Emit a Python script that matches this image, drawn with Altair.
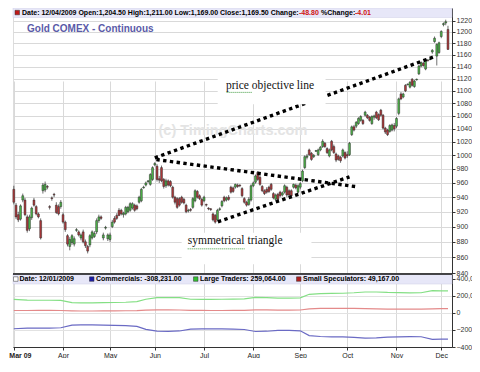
import altair as alt
import pandas as pd

FONT = "Liberation Sans"
W, H = 439, 339          # whole plot area (price panel on top, COT panel below)
SPLIT = 266              # pixel row where the COT panel starts

# first trading session of each month (trading-day index, Mar 2 2009 = 0)
month_idx = [0, 22, 43, 63, 85, 107, 128, 149, 171, 191]
month_lbl = ["Mar 09", "Apr", "May", "Jun", "Jul", "Aug", "Sep", "Oct", "Nov", "Dec"]
price_ticks = [840, 860, 880, 900, 920, 940, 960, 980, 1000, 1020, 1040, 1060,
               1080, 1100, 1120, 1140, 1160, 1180, 1200, 1220]
cot_ticks = [-400000, -200000, 0, 200000, 400000]

# daily candles, Mar .. Dec 2009 (one row of numbers per month)
opens = [951, 929, 916, 910, 936, 936, 913, 897, 912, 936, 927, 917, 908, 949, 950, 955, 927, 939, 944, 929, 927, 927,
         916, 906, 888, 874, 879, 877, 895, 893, 885, 893, 880, 874, 876, 885, 887, 893, 908, 913, 885, 898, 884,
         883, 900, 911, 915, 922, 922, 916, 917, 920, 922, 925, 929, 928, 933, 935, 953, 957, 962, 958, 965,
         986, 984, 966, 982, 965, 956, 963, 962, 954, 940, 938, 938, 940, 937, 929, 921, 923, 926, 935, 948, 942, 937,
         935, 930, 925, 924, 917, 915, 909, 923, 928, 940, 936, 940, 954, 953, 954, 957, 957, 952, 938, 933, 930, 936,
         956, 961, 975, 968, 955, 949, 951, 954, 958, 945, 937, 944, 947, 943, 947, 954, 949, 949, 954, 957, 947,
         954, 963, 982, 997, 1008, 1003, 998, 1006, 1001, 1008, 1013, 1018, 1010, 999, 1021, 1013, 1002, 999, 997, 999, 1004,
         1001, 1001, 1031, 1043, 1044, 1048, 1053, 1053, 1061, 1061, 1058, 1048, 1058, 1066, 1062, 1069, 1061, 1041, 1038, 1036, 1038, 1045,
         1044, 1064, 1095, 1090, 1109, 1110, 1106, 1119, 1107, 1118, 1128, 1141, 1146, 1136, 1151, 1152, 1165, 1183, 1158, 1164,
         1192, 1213, 1216, 1204.5]
highs = [956, 932, 920, 930, 945, 939, 916, 916, 927, 939, 929, 919, 911, 960, 962, 957, 929, 941, 946, 933, 930, 936,
         919, 908, 890, 886, 890, 887, 898, 895, 891, 896, 883, 876, 890, 895, 894, 911, 916, 915, 892, 901, 891,
         892, 909, 914, 918, 925, 924, 920, 928, 928, 933, 933, 931, 930, 942, 953, 956, 962, 964, 974, 984,
         990, 987, 970, 985, 967, 966, 965, 964, 956, 942, 940, 940, 942, 939, 931, 924, 925, 940, 951, 950, 944, 939,
         942, 931, 926, 925, 919, 917, 924, 926, 936, 942, 941, 943, 956, 955, 959, 959, 958, 954, 940, 935, 940, 958,
         962, 972, 977, 970, 957, 951, 954, 956, 960, 947, 945, 946, 949, 948, 958, 956, 951, 951, 959, 959, 958,
         961, 979, 1000, 1002, 1010, 1005, 1002, 1008, 1010, 1014, 1024, 1020, 1012, 1010, 1023, 1016, 1004, 1001, 999, 1010, 1006,
         1006, 1020, 1045, 1046, 1052, 1058, 1061, 1055, 1068, 1063, 1060, 1061, 1062, 1068, 1064, 1071, 1063, 1043, 1040, 1047, 1048, 1049,
         1058, 1089, 1098, 1097, 1111, 1112, 1116, 1121, 1118, 1120, 1143, 1149, 1148, 1154, 1153, 1155, 1170, 1192, 1180, 1183,
         1203, 1217, 1222, 1211]
lows = [930, 910, 906, 908, 933, 914, 892, 894, 909, 927, 915, 911, 883, 945, 947, 951, 923, 935, 940, 917, 915, 924,
        904, 893, 874, 869, 876, 874, 893, 887, 882, 878, 872, 865, 873, 883, 885, 890, 905, 909, 882, 896, 881,
        880, 898, 904, 909, 914, 915, 912, 915, 918, 920, 923, 920, 922, 931, 933, 952, 955, 960, 956, 963,
        984, 962, 960, 961, 952, 953, 955, 954, 938, 930, 924, 927, 931, 930, 918, 919, 920, 924, 933, 938, 936, 927,
        933, 927, 922, 921, 907, 904, 907, 921, 926, 933, 934, 935, 945, 946, 952, 953, 954, 940, 931, 927, 928, 934,
        954, 959, 963, 956, 947, 943, 945, 946, 949, 937, 935, 935, 940, 941, 945, 940, 941, 941, 952, 951, 945,
        951, 961, 980, 994, 999, 992, 996, 1005, 999, 1006, 1011, 1011, 1002, 997, 1006, 1002, 990, 992, 989, 997, 994,
        996, 999, 1029, 1036, 1041, 1046, 1051, 1046, 1059, 1055, 1051, 1046, 1054, 1055, 1052, 1059, 1039, 1032, 1029, 1034, 1036, 1036,
        1041, 1061, 1085, 1088, 1098, 1109, 1104, 1107, 1105, 1117, 1126, 1139, 1140, 1134, 1149, 1151, 1162, 1181, 1142, 1162,
        1189, 1210, 1212, 1169]
closes = [933, 913, 909, 928, 942, 916, 895, 913, 925, 929, 917, 913, 885, 957, 958, 954, 926, 938, 943, 919, 917, 933,
          906, 896, 877, 883, 888, 884, 896, 889, 889, 880, 875, 868, 888, 893, 891, 908, 913, 911, 889, 899, 889,
          889, 906, 906, 911, 915, 917, 918, 926, 926, 931, 931, 922, 924, 940, 951, 954, 960, 963, 972, 982,
          988, 965, 964, 963, 955, 963, 957, 956, 940, 933, 926, 929, 933, 932, 920, 922, 922, 938, 949, 940, 938, 929,
          940, 929, 924, 923, 909, 906, 922, 924, 934, 935, 939, 937, 947, 948, 958, 955, 956, 942, 933, 929, 937, 956,
          960, 970, 965, 958, 949, 945, 947, 948, 951, 939, 943, 937, 942, 946, 956, 943, 943, 942, 958, 953, 956,
          959, 977, 998, 999, 1001, 994, 1000, 1007, 1008, 1012, 1021, 1013, 1004, 1008, 1008, 1004, 993, 994, 992, 1008, 996,
          999, 1018, 1043, 1038, 1050, 1056, 1059, 1048, 1066, 1057, 1053, 1059, 1060, 1057, 1054, 1061, 1041, 1035, 1031, 1045, 1046, 1040,
          1056, 1087, 1087, 1095, 1100, 1111, 1114, 1109, 1116, 1119, 1141, 1147, 1142, 1152, 1150, 1153, 1168, 1189, 1178, 1181,
          1201, 1215, 1218.3, 1169.5]

# weekly COT report positions (trading-day index) and net positions
cot_idx = [0, 6, 11, 16, 21, 26, 30, 35, 40, 45, 50, 55, 59, 64, 69, 74, 79, 84, 88, 93, 98,
           103, 108, 113, 118, 123, 128, 132, 137, 142, 147, 152, 157, 162, 167, 172, 177, 182, 187, 191, 194]
large_traders = [158000, 150000, 148000, 148000, 146000, 120000, 118000, 118000, 120000, 122000, 125000,
                 132000, 160000, 178000, 180000, 178000, 160000, 158000, 158000, 160000, 162000,
                 165000, 182000, 180000, 172000, 172000, 176000, 218000, 225000, 228000, 230000,
                 236000, 245000, 245000, 240000, 238000, 235000, 236000, 262000, 259064, 259064]
small_specs = [28000, 28000, 30000, 30000, 28000, 24000, 22000, 22000, 23000, 24000, 25000,
               27000, 33000, 36000, 36000, 34000, 30000, 29000, 28000, 28000, 29000,
               30000, 36000, 35000, 32000, 32000, 34000, 48000, 52000, 53000, 52000,
               52000, 50000, 48000, 45000, 44000, 43000, 44000, 48000, 49167, 49167]
commercials = [-186000, -178000, -178000, -178000, -174000, -144000, -140000, -140000, -143000, -146000, -150000,
               -159000, -193000, -214000, -216000, -212000, -190000, -187000, -186000, -188000, -191000,
               -195000, -218000, -215000, -204000, -204000, -210000, -266000, -277000, -281000, -282000,
               -288000, -295000, -293000, -285000, -282000, -278000, -280000, -310000, -308231, -308231]

# drawn trend lines (trading-day index, price)
line_seg = ["objective", "objective", "upper", "upper", "lower", "lower"]
line_i = [63.0, 188.6, 63.7, 153.0, 91.2, 150.0]
line_p = [996.3, 1157.9, 993.8, 954.7, 906.4, 968.7]

# annotation text boxes
note_txt = ["price objective line", "symmetrical triangle"]
note_i = [114.5, 98.9]
note_p = [1108, 880.4]
box_i1 = [91.1, 75.0]
box_i2 = [139.3, 133.0]
box_p1 = [1135.7, 892.0]
box_p2 = [1078.5, 851.4]
squig_i1 = [95.1, 77.7]
squig_i2 = [106.3, 103.1]
squig_p = [1097.5, 870.9]

candles = pd.DataFrame({"i": list(range(len(opens))), "o": opens, "h": highs, "l": lows, "c": closes})
lines = pd.DataFrame({"seg": line_seg, "i": line_i, "p": line_p})
notes = pd.DataFrame({"txt": note_txt, "i": note_i, "p": note_p})
boxes = pd.DataFrame({"i1": box_i1, "i2": box_i2, "p1": box_p1, "p2": box_p2})
squig = pd.DataFrame({"i1": squig_i1, "i2": squig_i2, "p": squig_p})
wm = pd.DataFrame({"txt": ["(c) TimingCharts.com"], "i": [97.9], "p": [1037]})
groups = ["Commercials", "Large Traders", "Small Speculators"]
cot = pd.DataFrame({
    "idx": cot_idx * 3,
    "g": [groups[0]] * len(cot_idx) + [groups[1]] * len(cot_idx) + [groups[2]] * len(cot_idx),
    "v": commercials + large_traders + small_specs,
})
one = pd.DataFrame({"a": [0]})

xs = alt.Scale(domain=[-0.36, 195.8], nice=False, zero=False)
ys = alt.Scale(type="log", domain=[839.1, 1243.3], range=[SPLIT, 0], nice=False, zero=False)
ycs = alt.Scale(domain=[-400000, 456000], range=[H, SPLIT], nice=False, zero=False)

GRID = "#d9d9d9"
label_expr = "[" + ",".join("'%s'" % m for m in month_lbl) + "][indexof([" + ",".join(
    str(v) for v in month_idx) + "], datum.value)]"
x_ax = alt.Axis(values=month_idx, labelExpr=label_expr, grid=True, gridColor=GRID,
                tickSize=3, tickColor="#333", domainColor="#333", labelFontSize=7, labelFont=FONT,
                labelColor="#222", labelPadding=1, labelFlush=3, labelFlushOffset=5,
                labelOverlap=False, title=None,
                labelFontWeight={"condition": {"test": "datum.value == 0", "value": "bold"}, "value": "normal"})
y_price = alt.Axis(orient="right", values=price_ticks, format="d", grid=True, gridColor=GRID,
                   tickSize=3, tickColor="#333", domainColor="#333", labelFontSize=7, labelFont=FONT,
                   labelColor="#333", labelPadding=1, labelOverlap=False, title=None)
y_cot = alt.Axis(orient="right", values=cot_ticks, format=",.0f", grid=True, gridColor="#e2e2e2",
                 tickSize=3, tickColor="#333", domainColor="#333", labelFontSize=7, labelFont=FONT,
                 labelColor="#333", labelPadding=1, labelOverlap=False, title=None)

X = lambda f: alt.X(f, scale=xs, axis=x_ax)
Y = lambda f: alt.Y(f, scale=ys, axis=y_price)

# ---------------- price panel ----------------
watermark = alt.Chart(wm).mark_text(font=FONT, fontWeight="bold", fontSize=14.5, color="#e4e4e4",
                                    baseline="middle").encode(x=X("i:Q"), y=Y("p:Q"), text="txt:N")
wicks = alt.Chart(candles).mark_rule(color="#333333", strokeWidth=0.7).encode(
    x=X("i:Q"), y=Y("l:Q"), y2="h:Q")
bodies = alt.Chart(candles).transform_calculate(x0="datum.i - 0.42", x1="datum.i + 0.42").mark_rect(
    stroke="#2a2a2a", strokeWidth=0.5).encode(
    x=X("x0:Q"), x2="x1:Q", y=Y("o:Q"), y2="c:Q",
    color=alt.condition("datum.c >= datum.o", alt.value("#4db848"), alt.value("#b2383a")))
trend = alt.Chart(lines).mark_line(color="black", strokeWidth=3.4, strokeDash=[3.4, 3.4],
                                   strokeCap="butt").encode(x=X("i:Q"), y=Y("p:Q"), detail="seg:N")
white = alt.Chart(boxes).mark_rect(fill="white").encode(x=X("i1:Q"), x2="i2:Q", y=Y("p1:Q"), y2="p2:Q")
note_text = alt.Chart(notes).mark_text(font="Liberation Serif", fontSize=11.5, color="#111",
                                       baseline="middle").encode(x=X("i:Q"), y=Y("p:Q"), text="txt:N")
squiggle = alt.Chart(squig).mark_rule(color="#3f9a3f", strokeWidth=1, strokeDash=[1, 1]).encode(
    x=X("i1:Q"), x2="i2:Q", y=Y("p:Q"))
price_panel = alt.layer(watermark, wicks, bodies, trend, white, note_text, squiggle)

# ---------------- COT panel ----------------
cot_panel = alt.Chart(cot).mark_line(strokeWidth=1.2).encode(
    x=X("idx:Q"),
    y=alt.Y("v:Q", scale=ycs, axis=y_cot),
    color=alt.Color("g:N", scale=alt.Scale(domain=groups, range=["#6a6ac4", "#84df84", "#e48a8a"]),
                    legend=None))


# ---------------- header bars, legends, title ----------------
def rect(x1, x2, y1, y2, fill, stroke="#333", sw=0.5):
    return alt.Chart(one).mark_rect(fill=fill, stroke=stroke, strokeWidth=sw).encode(
        x=alt.value(x1), x2=alt.value(x2), y=alt.value(y1), y2=alt.value(y2))


def hdr(txt, x, y, color="#000"):
    return alt.Chart(one).mark_text(text=txt, align="left", baseline="middle", font=FONT,
                                    fontSize=7, fontWeight="bold", color=color).encode(
        x=alt.value(x), y=alt.value(y))


TB = 4.6            # text row of the top bar
BB = SPLIT + 5      # text row of the lower bar
deco = alt.layer(
    rect(0, W, 0, 9.5, "#e7e7f8", "#cfcfe6"),
    rect(2, 6.5, 2.3, 6.8, "#c01818"),
    hdr("Date: 12/04/2009 Open:1,204.50 High:1,211.00 Low:1,169.00 Close:1,169.50 Change:", 9, TB),
    hdr("-48.80", 286, TB, "#d01010"),
    hdr("%Change:", 308, TB),
    hdr("-4.01", 342, TB, "#d01010"),
    alt.Chart(one).mark_text(text="Gold COMEX - Continuous", align="left", baseline="middle",
                             font=FONT, fontSize=10, fontWeight="bold", color="#5a5aa8").encode(
        x=alt.value(14), y=alt.value(21)),
    rect(0, W, SPLIT, SPLIT + 10, "#e7e7f8", "#cfcfe6"),
    alt.Chart(one).mark_rule(color="#111", strokeWidth=1.6).encode(
        x=alt.value(0), x2=alt.value(W), y=alt.value(SPLIT)),
    rect(0.5, 5, BB - 2.2, BB + 2.3, "white"), hdr("Date: 12/01/2009", 6.5, BB),
    rect(76.5, 81, BB - 2.2, BB + 2.3, "#1c1ca8"), hdr("Commercials: -308,231.00", 83, BB),
    rect(180.5, 185, BB - 2.2, BB + 2.3, "#33c033"), hdr("Large Traders: 259,064.00", 187, BB),
    rect(283.5, 288, BB - 2.2, BB + 2.3, "#b21f1f"), hdr("Small Speculators: 49,167.00", 290, BB),
)

chart = alt.layer(price_panel, cot_panel, deco).resolve_scale(y="independent").properties(
    width=W, height=H,
    autosize=alt.AutoSizeParams(type="none"),
    padding={"left": 5, "top": 0, "right": 20, "bottom": 11},
    background="white",
).configure_view(stroke="#333", strokeWidth=1).configure(font=FONT)

chart.save("out.html", embed_options={"renderer": "svg", "actions": False})
